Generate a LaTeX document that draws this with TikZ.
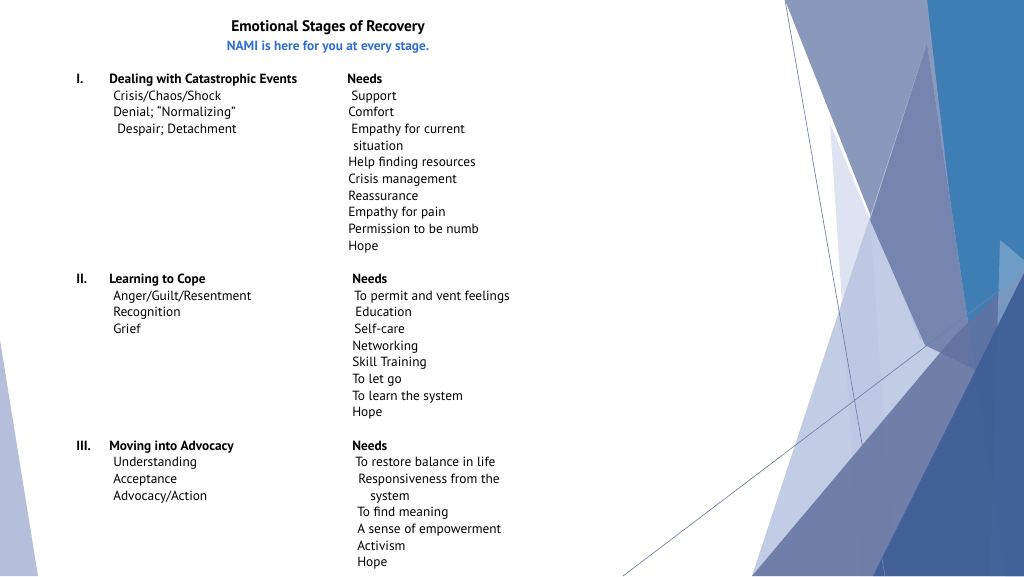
\documentclass[tikz,border=0pt]{standalone}
\usepackage{fontspec}
\setmainfont{PT Sans}
\usepackage{xcolor}
\definecolor{grayblue}{RGB}{138,152,187}
\definecolor{midblue}{RGB}{111,127,171}
\definecolor{lightlav}{RGB}{188,198,226}
\definecolor{palelav}{RGB}{221,227,241}
\definecolor{panelblue}{RGB}{63,125,181}
\definecolor{darkband}{RGB}{98,114,160}
\definecolor{deepblue}{RGB}{60,93,149}
\definecolor{namiblue}{RGB}{46,111,208}
\begin{document}
\begin{tikzpicture}[x=0.75pt,y=0.75pt,yscale=-1,xscale=1,
	txt/.style={anchor=base west,inner sep=0pt,font=\fontsize{10}{12}\selectfont},
	bold/.style={txt,font=\fontsize{10}{12}\selectfont\bfseries}]
	\useasboundingbox (0,0) rectangle (1024,576);
	
	%Shapes on the right
	\fill [panelblue] (920,0) -- (1024,0) -- (1024,576) -- (1005,576) -- cycle ;
	\fill [grayblue] (785,0) -- (927,0) -- (965,330) -- (920,340) -- cycle ;
	\fill [palelav] (830,123) -- (870,220) -- (895,576) -- (860,576) -- cycle ;
	\fill [lightlav,opacity=0.9] (927,43) -- (1005,576) -- (752,576) -- cycle ;
	\fill [midblue,opacity=0.9] (927,43) -- (975,370) -- (925,345) -- (870,220) -- cycle ;
	\fill [darkband,opacity=0.85] (752,576) -- (955,335) -- (1024,270) -- (1024,576) -- cycle ;
	\fill [panelblue!60!white,opacity=0.6] (1000,240) -- (1024,260) -- (1024,576) -- (990,576) -- cycle ;
	\fill [deepblue,opacity=0.9] (1024,273) -- (1024,576) -- (873,576) -- cycle ;
	\fill [lightlav!70!grayblue,opacity=0.9] (0,340) -- (38,576) -- (0,576) -- cycle ;
	%Straight Lines
	\draw [midblue,line width=0.5pt] (785,0) -- (885,576) ;
	\draw [midblue,line width=0.5pt] (623,576) -- (1000,290) ;
	
	% Title
	\node (title) at (328,28) [font=\fontsize{11.5}{13}\selectfont\bfseries] {Emotional Stages of Recovery};
	\node (nami) at (328,47) [font=\fontsize{10}{12}\selectfont\bfseries,text=namiblue] {NAMI is here for you at every stage.};
	
	% Stage I
	\node (n1) at (76,83) [bold] {I.};
	\node (h1) at (109,83) [bold] {Dealing with Catastrophic Events};
	\node (a1) at (113,100) [txt] {Crisis/Chaos/Shock};
	\node (b1) at (113,116.5) [txt] {Denial; ``Normalizing''};
	\node (c1) at (117,133) [txt] {Despair; Detachment};
	\node (need1) at (347,83) [bold] {Needs};
	\node (s1) at (351,100) [txt] {Support};
	\node (s2) at (348,116.5) [txt] {Comfort};
	\node (s3) at (351,133) [txt] {Empathy for current};
	\node (s4) at (353,150) [txt] {situation};
	\node (s5) at (348,166.5) [txt] {Help finding resources};
	\node (s6) at (348,183) [txt] {Crisis management};
	\node (s7) at (348,200) [txt] {Reassurance};
	\node (s8) at (348,216.5) [txt] {Empathy for pain};
	\node (s9) at (348,233) [txt] {Permission to be numb};
	\node (s10) at (348,250) [txt] {Hope};
	
	% Stage II
	\node (n2) at (76,283) [bold] {II.};
	\node (h2) at (109,283) [bold] {Learning to Cope};
	\node (a2) at (113,300) [txt] {Anger/Guilt/Resentment};
	\node (b2) at (113,316.5) [txt] {Recognition};
	\node (c2) at (113,333) [txt] {Grief};
	\node (need2) at (352,283) [bold] {Needs};
	\node (t1) at (354,300) [txt] {To permit and vent feelings};
	\node (t2) at (355,316.5) [txt] {Education};
	\node (t3) at (354,333) [txt] {Self-care};
	\node (t4) at (352,350) [txt] {Networking};
	\node (t5) at (352,366.5) [txt] {Skill Training};
	\node (t6) at (352,383) [txt] {To let go};
	\node (t7) at (352,400) [txt] {To learn the system};
	\node (t8) at (352,416.5) [txt] {Hope};
	
	% Stage III
	\node (n3) at (76,450) [bold] {III.};
	\node (h3) at (109,450) [bold] {Moving into Advocacy};
	\node (a3) at (113,466.5) [txt] {Understanding};
	\node (b3) at (113,483) [txt] {Acceptance};
	\node (c3) at (113,500) [txt] {Advocacy/Action};
	\node (need3) at (352,450) [bold] {Needs};
	\node (u1) at (355,466.5) [txt] {To restore balance in life};
	\node (u2) at (358,483) [txt] {Responsiveness from the};
	\node (u3) at (370,500) [txt] {system};
	\node (u4) at (357,516.5) [txt] {To find meaning};
	\node (u5) at (357,533) [txt] {A sense of empowerment};
	\node (u6) at (357,550) [txt] {Activism};
	\node (u7) at (357,566.5) [txt] {Hope};
\end{tikzpicture}
\end{document}
